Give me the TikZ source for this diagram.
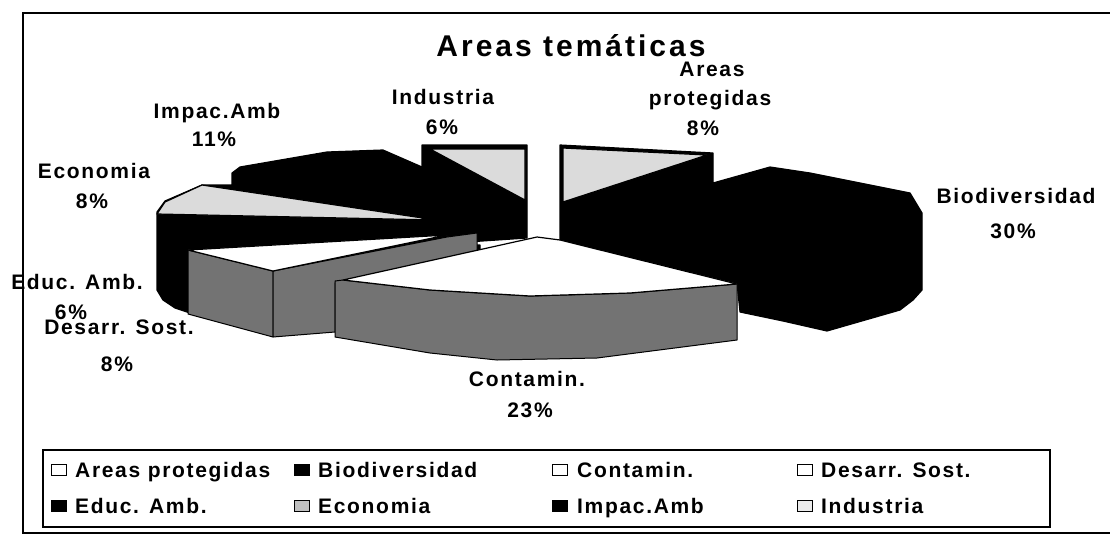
\documentclass[tikz,border=0pt]{standalone}
\usepackage{fontspec}
\setmainfont{Liberation Sans}
\newfontfamily\labfont[LetterSpace=8]{Liberation Sans}
\newfontfamily\titfont[LetterSpace=10]{Liberation Sans}
\tikzset{
  lab/.style={font=\labfont\bfseries\fontsize{21}{24}\selectfont, inner sep=0pt, anchor=base},
  legtext/.style={font=\labfont\bfseries\fontsize{21}{24}\selectfont, inner sep=0pt, anchor=base west},
  blk/.style={fill=black, draw=black, line width=1.2pt, line join=round},
  lgt/.style={fill=black!14, draw=black, line width=1.2pt, line join=round},
  mid/.style={fill=black!55, draw=black, line width=1pt, line join=round},
  wht/.style={fill=white, draw=black, line width=1.2pt, line join=round},
  sw/.style={draw=black, line width=1.8pt, minimum width=15pt, minimum height=11pt, inner sep=0pt},
}
\begin{document}
\begin{tikzpicture}[x=1pt,y=-1pt]
\useasboundingbox (0,0) rectangle (1110,536);
\fill[white] (0,0) rectangle (1110,536);

% ---- pie: back-left black mass (Impac.Amb, Educ. Amb.)
\path[blk] (157,212) -- (165,201) -- (202,185) -- (232,185) -- (232,173) -- (240,167) -- (327,152) -- (383,150) -- (422,167) -- (422,245) -- (480,245) -- (480,255) -- (335,285) -- (273,335) -- (190,313) -- (175,308) -- (163,300) -- (157,290) -- cycle;
% Economia top
\path[lgt] (157,214) -- (165,202) -- (202,185) -- (436,220) -- cycle;
% Industria
\path[blk] (422,145) -- (527,145) -- (527,238) -- (422,245) -- cycle;
\path[lgt] (430,149) -- (525,149) -- (525,200) -- cycle;
% Desarr. Sost.
\path[mid] (188,250) -- (273,271) -- (273,337) -- (188,314) -- cycle;
\path[mid] (273,271) -- (447,237) -- (477,233) -- (477,252) -- (335,283) -- (335,332) -- (273,337) -- cycle;
\path[wht] (188,250) -- (447,235) -- (273,271) -- cycle;
% Areas protegidas + Biodiversidad
\path[blk] (560,145) -- (713,153) -- (713,183) -- (770,167) -- (810,173) -- (910,193) -- (922,213) -- (922,290) -- (913,300) -- (900,310) -- (827,331) -- (783,321) -- (740,312) -- (737,283) -- (560,240) -- cycle;
\path[lgt] (563,148) -- (707,155) -- (563,202) -- cycle;
% Contamin.
\path[mid] (335,281) -- (343,280) -- (430,290) -- (530,296) -- (630,293) -- (737,284) -- (737,340) -- (597,358) -- (497,360) -- (430,353) -- (335,337) -- cycle;
\path[wht] (537,237) -- (560,240) -- (737,284) -- (630,293) -- (530,296) -- (430,290) -- (343,280) -- cycle;

% ---- title
\node[font=\titfont\bfseries\fontsize{30}{34}\selectfont, inner sep=0pt, anchor=base] (title) at (571,56) {Areas temáticas};

% ---- slice labels
\node[lab] (ap1) at (712,76) {Areas};
\node[lab] (ap2) at (710,105) {protegidas};
\node[lab] (ap3) at (703,135) {8\%};
\node[lab] (bi1) at (1016,203) {Biodiversidad};
\node[lab] (bi2) at (1013,238) {30\%};
\node[lab] (co1) at (527,386) {Contamin.};
\node[lab] (co2) at (530,417) {23\%};
\node[lab] (de1) at (119,334) {Desarr. Sost.};
\node[lab] (de2) at (117,371) {8\%};
\node[lab] (ed1) at (77,289) {Educ. Amb.};
\node[lab] (ed2) at (71,319) {6\%};
\node[lab] (ec1) at (94,178) {Economia};
\node[lab] (ec2) at (92,208) {8\%};
\node[lab] (im1) at (217,118) {Impac.Amb};
\node[lab] (im2) at (214,146) {11\%};
\node[lab] (in1) at (443,104) {Industria};
\node[lab] (in2) at (442,134) {6\%};

% ---- legend
\draw[line width=1.2pt] (43,450) rectangle (1050,527);
\node[sw, fill=white]    (s1) at (59,470) {};
\node[legtext] (t1) at (75,477) {Areas protegidas};
\node[sw, fill=black]    (s2) at (302,470) {};
\node[legtext] (t2) at (318,477) {Biodiversidad};
\node[sw, fill=white]    (s3) at (560,470) {};
\node[legtext] (t3) at (577,477) {Contamin.};
\node[sw, fill=white]    (s4) at (805,470) {};
\node[legtext] (t4) at (821,477) {Desarr. Sost.};
\node[sw, fill=black]    (s5) at (59,506) {};
\node[legtext] (t5) at (75,513) {Educ. Amb.};
\node[sw, fill=black!25] (s6) at (302,506) {};
\node[legtext] (t6) at (318,513) {Economia};
\node[sw, fill=black]    (s7) at (560,506) {};
\node[legtext] (t7) at (577,513) {Impac.Amb};
\node[sw, fill=black!8]  (s8) at (805,506) {};
\node[legtext] (t8) at (821,513) {Industria};

% ---- outer frame
\draw[line width=2pt] (23,13) rectangle (1130,533);
\end{tikzpicture}
\end{document}
